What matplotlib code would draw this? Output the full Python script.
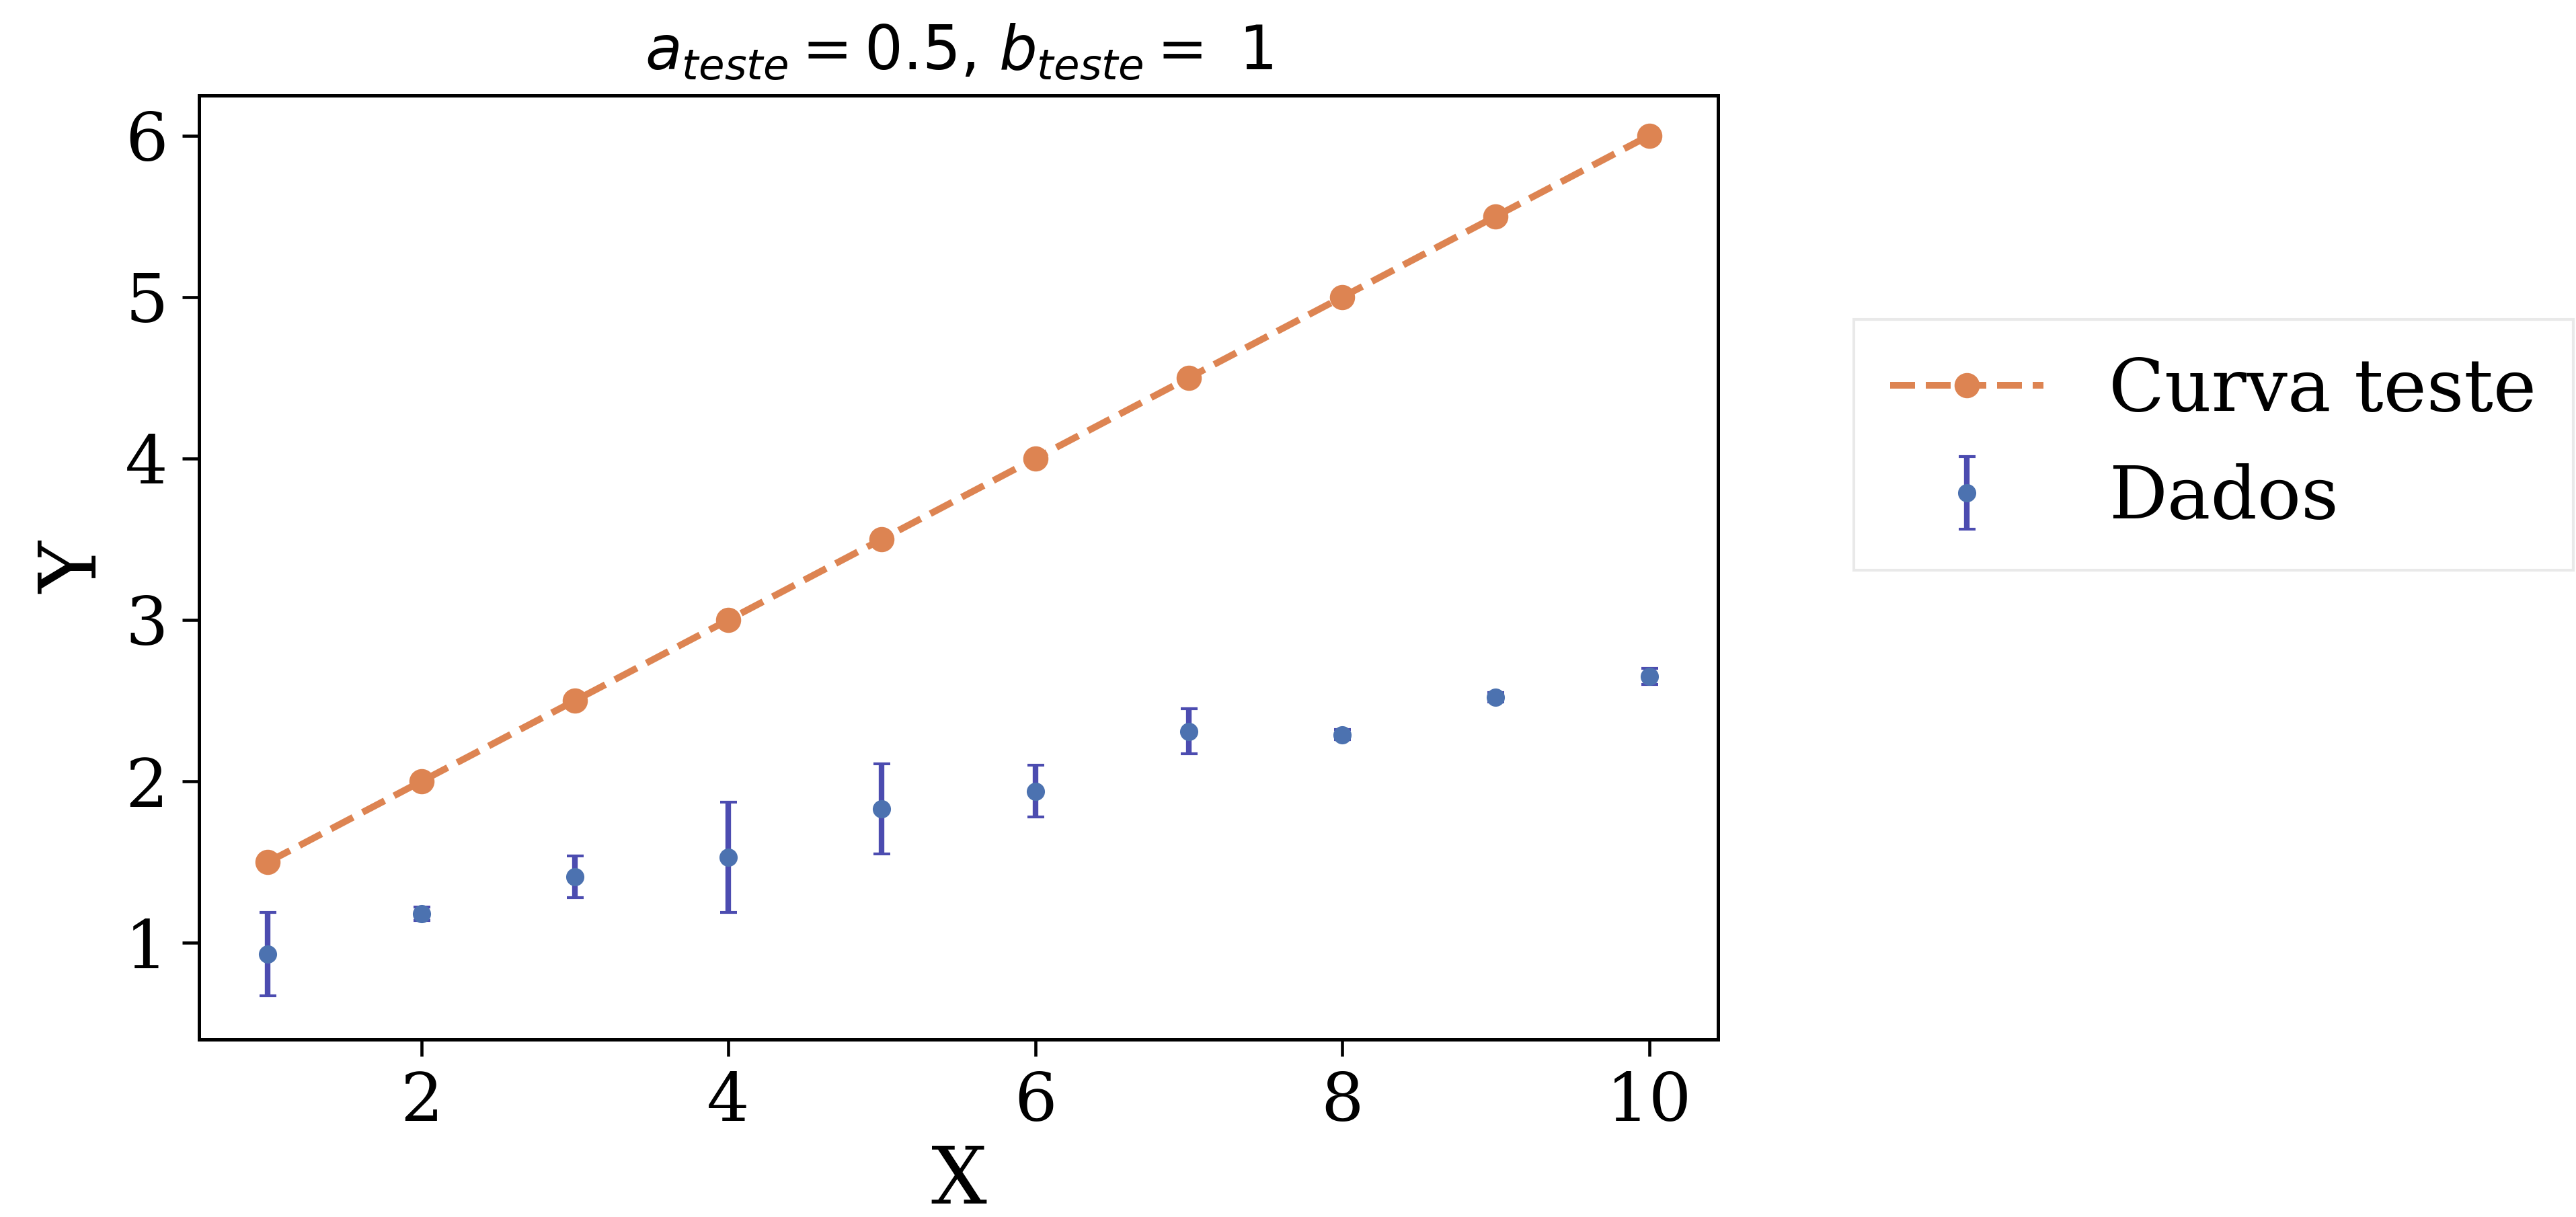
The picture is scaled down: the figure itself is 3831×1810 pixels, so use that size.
import numpy as np
import matplotlib
matplotlib.use("Agg")
import matplotlib.pyplot as plt

# dados
x = np.arange(1, 11)
y_dados = [0.93, 1.18, 1.41, 1.53, 1.83, 1.94, 2.31, 2.29, 2.52, 2.65]
y_err = [0.26, 0.04, 0.13, 0.34, 0.28, 0.16, 0.14, 0.03, 0.03, 0.05]

a_teste = 0.5
b_teste = 1
y_curva = [1.5, 2.0, 2.5, 3.0, 3.5, 4.0, 4.5, 5.0, 5.5, 6.0]

plt.rcParams['font.family'] = 'DejaVu Serif'
plt.rcParams['mathtext.fontset'] = 'dejavusans'

fig = plt.figure(figsize=(3831/300, 1810/300), dpi=300)
ax = fig.add_axes([0.0772, 0.1457, 0.5898, 0.776])

ax.plot(x, y_curva, '--o', color='#dd8452', lw=2.4, ms=8, label='Curva teste')
ax.errorbar(x, y_dados, yerr=y_err, fmt='o', color='#4c72b0', ecolor='#4c4cb0',
            ms=5.5, elinewidth=2, capsize=3, label='Dados')

ax.set_xlim(0.55, 10.45)
ax.set_ylim(0.4, 6.25)
ax.set_xticks([2, 4, 6, 8, 10])
ax.set_yticks([1, 2, 3, 4, 5, 6])
for s in ax.spines.values():
    s.set_linewidth(1.2)
ax.tick_params(labelsize=24, length=6, width=1.1, pad=5)
ax.set_xlabel('X', fontsize=28, labelpad=3)
ax.set_ylabel('Y', fontsize=28, labelpad=4)
ax.set_title(r'$a_{teste} = 0.5$, $b_{teste} = $ ' + str(b_teste), fontsize=21.5,
             family='DejaVu Sans', pad=9)

leg = ax.legend(loc='center left', bbox_to_anchor=(1.075, 0.63), fontsize=26,
                frameon=True, fancybox=False, edgecolor='#e4e4e4', borderpad=0.5,
                handlelength=2.1, handletextpad=0.9, borderaxespad=0.3)

fig.savefig('out.png', dpi=300)
